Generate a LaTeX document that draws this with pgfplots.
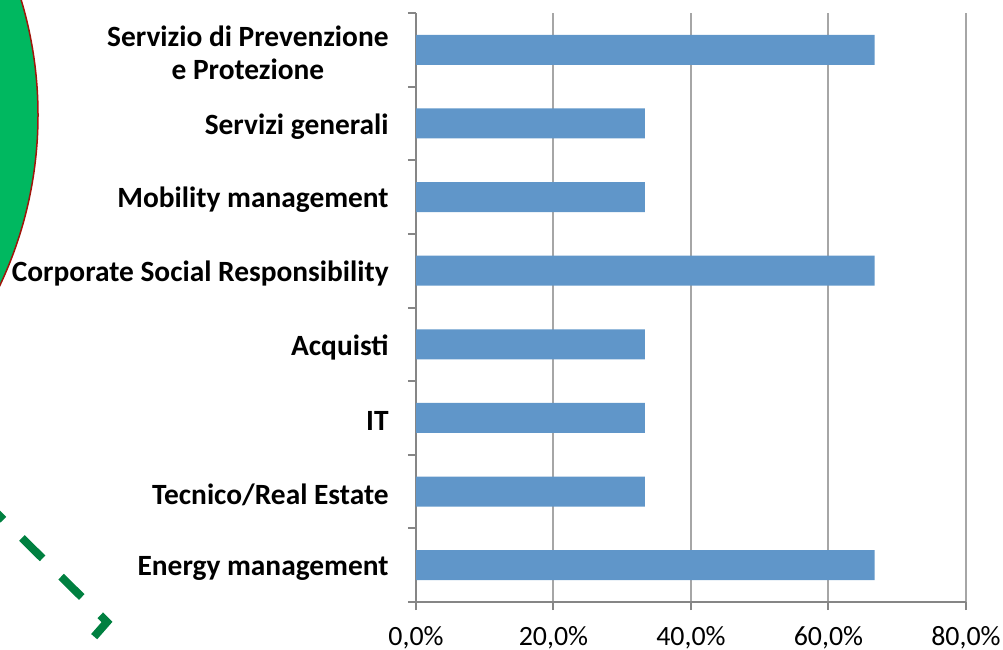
\documentclass[border=0pt]{standalone}
\usepackage{fontspec}
\setmainfont{Carlito}
\usepackage{pgfplots}
\pgfplotsset{compat=1.18}
\definecolor{barblue}{RGB}{96,150,201}
\definecolor{circgreen}{RGB}{0,184,96}
\definecolor{circedge}{RGB}{160,20,10}
\definecolor{dashgreen}{RGB}{0,128,64}
\definecolor{axgray}{RGB}{134,134,134}
\definecolor{gridgray}{RGB}{166,166,166}

\begin{document}
\begin{tikzpicture}
\path[use as bounding box] (0,0) rectangle (501.5bp,325bp);
% decoration, in pixel units of the reference
\begin{scope}[shift={(0bp,325bp)}, x=0.5bp, y=-0.5bp]
  \clip (0,0) rectangle (1003,650);
  \filldraw[fill=circgreen, draw=circedge, line width=0.75bp] (-361,115) circle (199.5bp);
  \draw[dashgreen, line width=4bp, dash pattern=on 14.5bp off 13bp, line join=miter]
    (-17.2,499.4) -- (107,622) -- (93,638);
\end{scope}

\begin{axis}[
    at={(208bp,24bp)}, anchor=south west,
    scale only axis, width=275bp, height=294.5bp,
    xbar, bar width=15bp,
    xmin=0, xmax=80, ymin=-0.5, ymax=7.5,
    axis x line*=bottom, axis y line*=left,
    axis line style={axgray, line width=1bp},
    every tick/.style={axgray, line width=1bp},
    tick align=outside,
    major tick length=4bp,
    xtick={0,20,40,60,80},
    xticklabels={{0,0\%},{20,0\%},{40,0\%},{60,0\%},{80,0\%}},
    xmajorgrids, major grid style={gridgray, line width=1bp},
    ytick={-0.5,0.5,...,7.5},
    yticklabels={},
    extra y ticks={0,...,7},
    extra y tick labels={Energy management,Tecnico/Real Estate,IT,Acquisti,Corporate Social Responsibility,Mobility management,Servizi generali,{Servizio di Prevenzione\\e Protezione}},
    extra y tick style={tick style={draw=none}, yticklabel style={font=\fontsize{14.75}{16.5}\selectfont\bfseries, align=center, inner sep=0pt, xshift=-9.5bp, yshift=-1.5bp}},
    xticklabel style={font=\fontsize{14}{15.5}\selectfont, inner sep=0pt, yshift=-8bp},
    /pgf/number format/assume math mode=true,
]
\addplot[fill=barblue, draw=none] coordinates {
  (66.7,0) (33.3,1) (33.3,2) (33.3,3) (66.7,4) (33.3,5) (33.3,6) (66.7,7)
};
\end{axis}
\end{tikzpicture}
\end{document}
